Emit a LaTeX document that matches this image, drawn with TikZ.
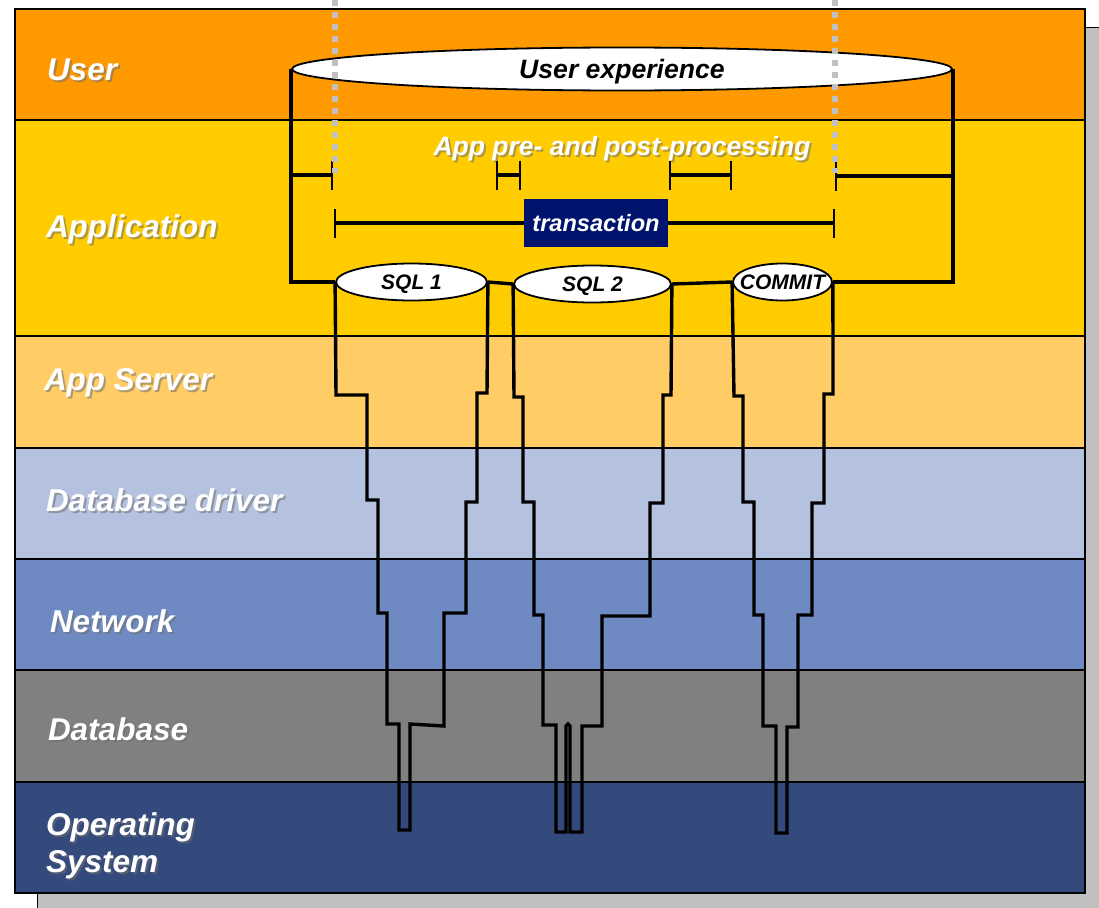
\documentclass[tikz,border=0pt]{standalone}
\usepackage{fontspec}
\setmainfont{Liberation Sans}
\usepackage{tikz}
\usetikzlibrary{shapes.geometric}
\usetikzlibrary{arrows.meta}

\definecolor{shadowColor}{RGB}{110,110,110}
\definecolor{dotColor}{RGB}{192,192,192}
\definecolor{navyColor}{RGB}{0,20,110}

\tikzset{
  layer/.style={draw=black,line width=1.5pt},
  lbl/.style={text=white,anchor=base west,inner sep=0pt,outer sep=0pt,font=\fontsize{31.5}{36}\selectfont\bfseries\itshape},
  lblshadow/.style={lbl,text=shadowColor,text opacity=0.55},
  pipe/.style={draw=black,line width=3.4pt,line join=miter,miter limit=2},
  dbcall/.style={ellipse,draw=black,fill=white,line width=1.8pt,inner sep=0pt,text depth=0pt,font=\fontsize{21}{24}\selectfont\bfseries\itshape},
  span/.style={draw=black,line width=3.4pt},
  spanbar/.tip={Bar[width=29pt,line width=2.2pt]},
  dotline/.style={draw=dotColor,line width=6pt,dash pattern=on 6pt off 6pt}
}

\newcommand{\layerlabel}[4]{%
  \node[lblshadow] (#1-sh) at (#2+2,#3+2) {#4};
  \node[lbl] (#1) at (#2,#3) {#4};}

\begin{document}
\begin{tikzpicture}[x=1pt,y=-1pt]
\definecolor{fillColor}{RGB}{255,255,255}
\path[use as bounding box,fill=fillColor] (0,0) rectangle (1099,907);
\begin{scope}
\path[clip] (0,0) rectangle (1099,907);
\definecolor{fillColor}{RGB}{192,192,192}

\path[draw=black,line width=1pt,fill=fillColor] (37,28) rectangle (1120,930);
\definecolor{fillColor}{RGB}{255,153,0}

\path[layer,fill=fillColor] (15,9) rectangle (1085,120);
\definecolor{fillColor}{RGB}{255,204,0}

\path[layer,fill=fillColor] (15,120) rectangle (1085,336);
\definecolor{fillColor}{RGB}{255,204,102}

\path[layer,fill=fillColor] (15,336) rectangle (1085,448);
\definecolor{fillColor}{RGB}{180,194,224}

\path[layer,fill=fillColor] (15,448) rectangle (1085,559);
\definecolor{fillColor}{RGB}{111,137,195}

\path[layer,fill=fillColor] (15,559) rectangle (1085,670);
\definecolor{fillColor}{RGB}{128,128,128}

\path[layer,fill=fillColor] (15,670) rectangle (1085,782);
\definecolor{fillColor}{RGB}{52,74,124}

\path[layer,fill=fillColor] (15,782) rectangle (1085,893);

\path[draw=black,line width=2pt] (15,9) rectangle (1085,893);
\end{scope}

\layerlabel{user}{47}{80}{User}
\layerlabel{app}{46}{237}{Application}
\layerlabel{appsrv}{44}{390}{App Server}
\layerlabel{driver}{46}{511}{Database driver}
\layerlabel{net}{50}{632}{Network}
\layerlabel{db}{48}{740}{Database}
\layerlabel{os1}{46}{835}{Operating}
\layerlabel{os2}{46}{872}{System}

\node[dbcall,minimum width=660pt,minimum height=43pt,font=\fontsize{26.6}{30}\selectfont\bfseries\itshape] (ux) at (622,69) {User experience};
\node[dbcall,minimum width=151pt,minimum height=37pt] (sql1) at (411.5,282) {SQL 1};
\node[dbcall,minimum width=157pt,minimum height=37pt] (sql2) at (592.5,284) {SQL 2};
\node[dbcall,minimum width=99pt,minimum height=37pt,inner xsep=-16pt] (commit) at (782.5,282) {COMMIT};

\node[lblshadow,anchor=base,font=\fontsize{26.5}{30}\selectfont\bfseries\itshape] (prepost-sh) at (624,157) {App pre- and post-processing};
\node[lbl,anchor=base,font=\fontsize{26.5}{30}\selectfont\bfseries\itshape] (prepost) at (622,155) {App pre- and post-processing};

\draw[pipe] (ux.west) |- (sql1.west);
\draw[pipe] (sql1.east) -- (sql2.west);
\draw[pipe] (sql2.east) -- (commit.west);
\draw[pipe] (commit.east) -| (ux.east);

\draw[pipe] (sql1.west) -- (336,395) -- (367,395) -- (367,500) -- (378,500) -- (378,613) -- (387,613) -- (387,724) -- (399,724) -- (399,830) -- (410,830) -- (410,724) -- (444,726) -- (444,613) -- (466,613) -- (466,502) -- (477,502) -- (477,393) -- (487,393) -- (sql1.east);

\draw[pipe] (sql2.west) -- (514,397) -- (523,397) -- (523,502) -- (534,502) -- (534,615) -- (543,615) -- (543,725) -- (556,725) -- (556,832) -- (566,832) -- (566,726) -- (568,724) -- (570,726) -- (570,832) -- (582,832) -- (582,726) -- (602,726) -- (602,616) -- (650,616) -- (650,503) -- (663,503) -- (663,395) -- (671,395) -- (sql2.east);

\draw[pipe] (commit.west) -- (734,396) -- (743,396) -- (743,502) -- (754,502) -- (754,615) -- (763,615) -- (763,726) -- (776,726) -- (776,833) -- (787,833) -- (787,727) -- (798,727) -- (798,615) -- (812,615) -- (812,503) -- (824,503) -- (824,394) -- (833,394) -- (commit.east);

\coordinate (t-a) at (293,175);
\coordinate (t-b) at (333,175);
\coordinate (t-c) at (496,175);
\coordinate (t-d) at (521,175);
\coordinate (t-e) at (669,175);
\coordinate (t-f) at (732,175);
\coordinate (t-g) at (835,176);
\coordinate (t-h) at (951,176);
\coordinate (tx-a) at (334,223);
\coordinate (tx-b) at (835,223);

\draw[span,-spanbar] (t-a) -- (t-b);
\draw[span,spanbar-spanbar] (t-c) -- (t-d);
\draw[span,spanbar-spanbar] (t-e) -- (t-f);
\draw[span,spanbar-] (t-g) -- (t-h);
\draw[span,spanbar-spanbar] (tx-a) -- (tx-b);

\node[fill=navyColor,minimum width=144pt,minimum height=48pt,inner sep=0pt,text=white,text depth=0pt,font=\fontsize{23.6}{27}\selectfont\bfseries\itshape] (trans) at (596,223) {transaction};

\coordinate (dot-a) at (335,0);
\coordinate (dot-b) at (335,173);
\coordinate (dot-c) at (835,0);
\coordinate (dot-d) at (835,173);

\draw[dotline] (dot-a) -- (dot-b);
\draw[dotline] (dot-c) -- (dot-d);
\end{tikzpicture}
\end{document}
